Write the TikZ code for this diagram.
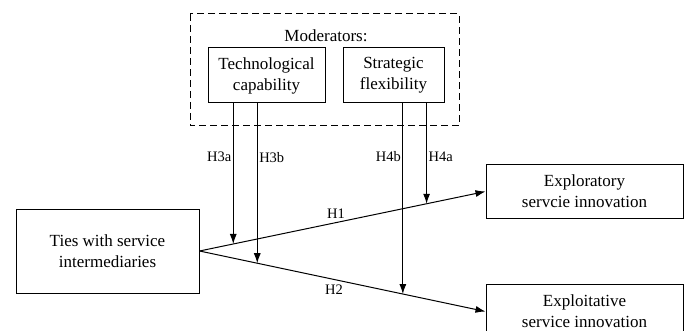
\documentclass[tikz,border=0pt]{standalone}
\usepackage{fontspec}
\setmainfont{Liberation Serif}
\usetikzlibrary{arrows.meta}
\begin{document}
\begin{tikzpicture}[x=1pt,y=-1pt,line width=1pt,
  box/.style={draw,align=center,inner sep=0pt,font=\fontsize{17}{21}\selectfont},
  hyp/.style={font=\fontsize{14.5}{16}\selectfont,inner sep=1.5pt},
  arr/.style={-{Latex[length=10pt,width=7pt]}}]
\useasboundingbox (0,0) rectangle (687,331);
%%% The moderators on top
\draw[dash pattern=on 7pt off 4pt] (190,14) rectangle (459,126);
\node[font=\fontsize{17}{21}\selectfont] (mod) at (326,36) {Moderators:};
\node[box,minimum width=117pt,minimum height=55pt] (tech) at (266.5,75.5)
{Technological\\capability};
\node[box,minimum width=101pt,minimum height=55pt] (strat) at (393.5,75.5)
{Strategic\\flexibility};
%
\node[box,minimum width=183pt,minimum height=84pt] (ties) at (107.5,251)
{Ties with service\\intermediaries};
\node[box,minimum width=197pt,minimum height=53pt] (explor) at (584.5,191.5)
{Exploratory\\servcie innovation};
\node[box,minimum width=197pt,minimum height=54pt] (exploit) at (584.5,311.5)
{Exploitative\\service innovation};
%Main effects
\draw[arr] (ties.east) -- (explor.west)
  coordinate[pos=0.118] (h3a) coordinate[pos=0.794] (h4a)
  node[hyp,pos=0.477,above=2pt] (h1) {H1};
\draw[arr] (ties.east) -- (exploit.west)
  coordinate[pos=0.202] (h3b) coordinate[pos=0.711] (h4b)
  node[hyp,pos=0.47,below=3pt] (h2) {H2};
%Moderating effects
\draw[arr] (tech.south -| h3a) -- (h3a) node[hyp,pos=0.38,left] (l3a) {H3a};
\draw[arr] (tech.south -| h3b) -- (h3b) node[hyp,pos=0.34,right] (l3b) {H3b};
\draw[arr] (strat.south -| h4b) -- (h4b) node[hyp,pos=0.28,left] (l4b) {H4b};
\draw[arr] (strat.south -| h4a) -- (h4a) node[hyp,pos=0.53,right] (l4a) {H4a};
\end{tikzpicture}
\end{document}
